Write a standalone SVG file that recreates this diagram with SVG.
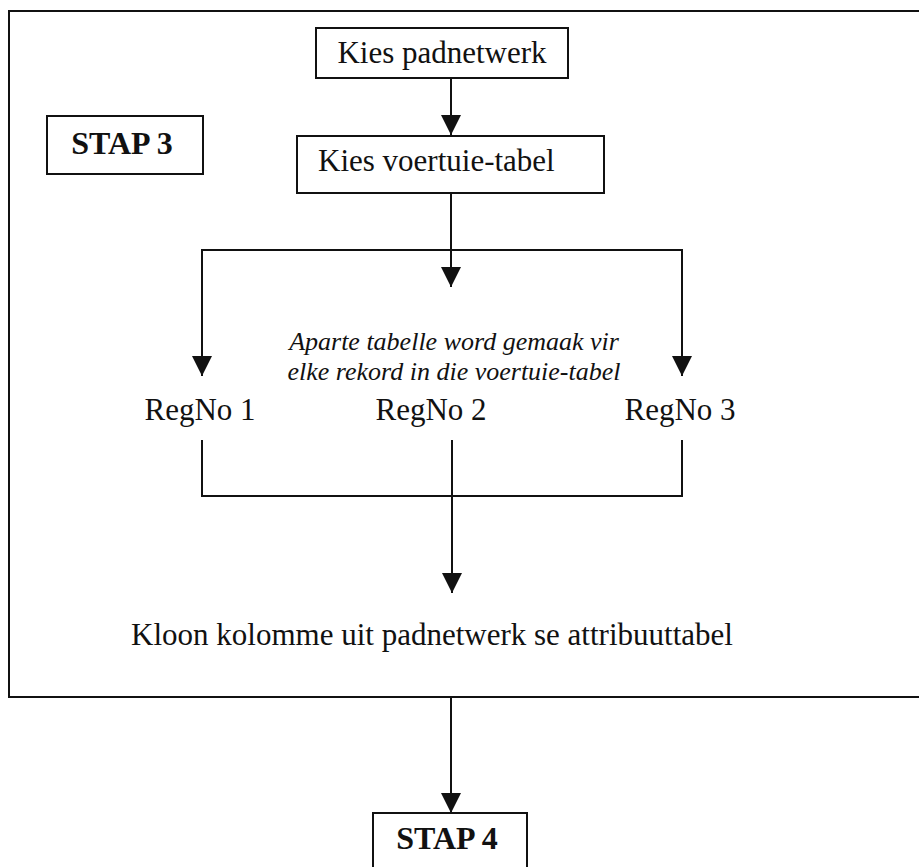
<svg xmlns="http://www.w3.org/2000/svg" width="919" height="867" viewBox="0 0 919 867">
<style>
.bx{fill:none;stroke:#111;stroke-width:2}
.ln{fill:none;stroke:#111;stroke-width:2}
.t{font-family:"Liberation Serif","Times New Roman",serif;font-size:31px;fill:#111}
.b{font-family:"Liberation Serif","Times New Roman",serif;font-size:32px;font-weight:bold;fill:#111}
.i{font-family:"Liberation Serif","Times New Roman",serif;font-size:26px;font-style:italic;fill:#111}
</style>
<defs>
<marker id="ah" markerWidth="20" markerHeight="20" viewBox="0 0 20 20" refX="20" refY="10" orient="auto" markerUnits="userSpaceOnUse">
<path d="M0,0 L20,10 L0,20 Z" fill="#111"/>
</marker>
</defs>
<rect width="919" height="867" fill="#fff"/>
<g id="frame"><path class="bx" d="M925,11 H9 V697 H925"/></g>
<g id="connectors">
<line class="ln" x1="451" y1="78" x2="451" y2="135" marker-end="url(#ah)"/>
<line class="ln" x1="451" y1="193" x2="451" y2="287" marker-end="url(#ah)"/>
<path class="ln" d="M202,375 V250 H682 V375" />
<line class="ln" x1="202" y1="360" x2="202" y2="376" marker-end="url(#ah)"/>
<line class="ln" x1="682" y1="360" x2="682" y2="376" marker-end="url(#ah)"/>
<path class="ln" d="M202,440 V496 H682 V440"/>
<line class="ln" x1="452" y1="440" x2="452" y2="593" marker-end="url(#ah)"/>
<line class="ln" x1="451" y1="697" x2="451" y2="813" marker-end="url(#ah)"/>
</g>
<g id="n1"><rect class="bx" x="316" y="28" width="252" height="50"/><text class="t" x="442" y="63" text-anchor="middle">Kies padnetwerk</text></g>
<g id="stap3"><rect class="bx" x="47" y="116" width="156" height="58"/><text class="b" x="122" y="154" text-anchor="middle">STAP 3</text></g>
<g id="n2"><rect class="bx" x="297" y="136" width="307" height="57"/><text class="t" x="318" y="171">Kies voertuie-tabel</text></g>
<g id="note"><text class="i" x="454" y="350" text-anchor="middle">Aparte tabelle word gemaak vir</text><text class="i" x="454" y="380" text-anchor="middle">elke rekord in die voertuie-tabel</text></g>
<g id="r1"><text class="t" x="200" y="420" text-anchor="middle">RegNo 1</text></g>
<g id="r2"><text class="t" x="431" y="420" text-anchor="middle">RegNo 2</text></g>
<g id="r3"><text class="t" x="680" y="420" text-anchor="middle">RegNo 3</text></g>
<g id="kloon"><text class="t" x="432" y="645" text-anchor="middle">Kloon kolomme uit padnetwerk se attribuuttabel</text></g>
<g id="stap4"><rect class="bx" x="373" y="813" width="154" height="70"/><text class="b" x="447" y="849" text-anchor="middle">STAP 4</text></g>
</svg>
